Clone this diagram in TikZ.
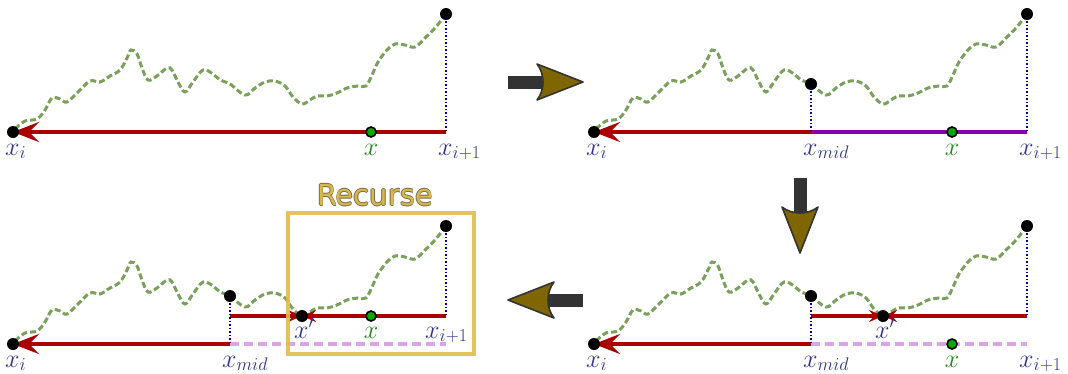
\RequirePackage{fix-cm}
\documentclass[tikz,border=0pt]{standalone}
\usepackage{fontspec}
\newfontfamily\recfont{DejaVu Sans}
\usetikzlibrary{arrows.meta}

\definecolor{walkgreen}{RGB}{122,160,92}
\definecolor{segred}{RGB}{170,0,0}
\definecolor{segpurple}{RGB}{136,0,170}
\definecolor{palepurple}{RGB}{218,165,228}
\definecolor{lblblue}{RGB}{52,52,140}
\definecolor{dotblue}{RGB}{0,0,140}
\definecolor{ptgreen}{RGB}{0,170,0}
\definecolor{lblgreen}{RGB}{34,136,34}
\definecolor{headolive}{RGB}{128,102,0}
\definecolor{shaftgray}{RGB}{51,51,51}
\definecolor{boxgold}{RGB}{224,190,72}
\definecolor{textgold}{RGB}{216,184,74}
\definecolor{edgegold}{RGB}{120,110,80}

\newcommand{\wiggle}{%
  \draw[walk] plot[smooth, tension=0.6] coordinates {(15,129) (25,121) (37,119)
    (45,110) (52,98) (60,99) (67,102) (78,92) (90,81) (100,82) (110,76) (120,70)
    (127,58) (131,50) (137,54) (142,68) (148,80) (157,76) (167,68) (172,70)
    (178,82) (185,92) (193,82) (203,70) (213,74) (220,80) (230,84) (245,95)
    (255,88) (265,82) (275,81) (285,86) (293,97) (302,104) (310,100) (317,96)
    (327,96) (337,93) (347,88) (358,86) (366,86) (372,75) (378,62) (387,50)
    (395,44) (405,45) (415,47) (425,38) (435,28) (446,14)};}
\newcommand{\bigarrow}[2]{%
  \begin{scope}[shift={#1}, rotate=#2]
    \fill[shaftgray] (0,-6.5) rectangle (36,6.5);
    \filldraw[fill=headolive, draw=shaftgray, line width=1.6pt, line join=round]
      (75,0) -- (29,18) .. controls (37,8) and (37,-8) .. (29,-18) -- cycle;
  \end{scope}}

\begin{document}
\begin{tikzpicture}[x=1pt, y=-1pt,
    walk/.style={walkgreen, line width=3pt, dash pattern=on 6pt off 3pt},
    seg/.style={segred, line width=4pt, -{Stealth[length=26pt, width=20pt, inset=10pt]}},
    part/.style={segred, line width=3.5pt, -{Stealth[length=14pt, width=12pt, inset=5pt]}},
    rest/.style={palepurple, line width=4pt, dash pattern=on 9pt off 5pt},
    drop/.style={dotblue, line width=1.5pt, dotted},
    pt/.style={circle, fill=black, inner sep=0pt, minimum size=12pt},
    gpt/.style={circle, fill=ptgreen, draw=black, line width=1.6pt, inner sep=0pt, minimum size=10pt},
    lbl/.style={lblblue, font=\fontsize{26}{30}\selectfont, inner sep=0pt,
      anchor=base west, xshift=-8pt, yshift=-23pt},
    glbl/.style={lblgreen, font=\fontsize{26}{30}\selectfont, inner sep=0pt,
      anchor=base, yshift=-23pt},
    rec/.style={font=\recfont\fontsize{29}{34}\selectfont, inner sep=0pt}]
\useasboundingbox (0,0) rectangle (1068,373);

% top left
\begin{scope}
  \coordinate (a-i) at (13,132);
  \coordinate (a-top) at (446,14);
  \coordinate (a-end) at (446,132);
  \coordinate (a-x) at (371,132);
  \wiggle
  \draw[seg] (a-end) -- (a-i);
  \draw[drop] (a-top) -- (a-end);
  \node[pt] (a-i-dot) at (a-i) {};
  \node[pt] (a-top-dot) at (a-top) {};
  \node[gpt] (a-x-dot) at (a-x) {};
  \node[lbl] (a-i-lbl) at (a-i) {$x_i$};
  \node[glbl] (a-x-lbl) at (a-x) {$x$};
  \node[lbl] (a-end-lbl) at (a-end) {$x_{i+1}$};
\end{scope}

% top right
\begin{scope}[shift={(581,0)}]
  \coordinate (b-i) at (13,132);
  \coordinate (b-top) at (446,14);
  \coordinate (b-end) at (446,132);
  \coordinate (b-midtop) at (230,84);
  \coordinate (b-mid) at (230,132);
  \coordinate (b-x) at (371,132);
  \wiggle
  \draw[seg] (b-mid) -- (b-i);
  \draw[segpurple, line width=4pt] (b-mid) -- (b-end);
  \draw[drop] (b-top) -- (b-end);
  \draw[drop] (b-midtop) -- (b-mid);
  \node[pt] (b-i-dot) at (b-i) {};
  \node[pt] (b-top-dot) at (b-top) {};
  \node[pt] (b-mid-dot) at (b-midtop) {};
  \node[gpt] (b-x-dot) at (b-x) {};
  \node[lbl] (b-i-lbl) at (b-i) {$x_i$};
  \node[lbl] (b-mid-lbl) at (b-mid) {$x_{mid}$};
  \node[glbl] (b-x-lbl) at (b-x) {$x$};
  \node[lbl] (b-end-lbl) at (b-end) {$x_{i+1}$};
\end{scope}

% bottom right
\begin{scope}[shift={(581,212)}]
  \coordinate (c-i) at (13,132);
  \coordinate (c-top) at (446,14);
  \coordinate (c-endup) at (446,104);
  \coordinate (c-end) at (446,132);
  \coordinate (c-midtop) at (230,84);
  \coordinate (c-midup) at (230,104);
  \coordinate (c-mid) at (230,132);
  \coordinate (c-xp) at (302,104);
  \coordinate (c-x) at (371,132);
  \wiggle
  \draw[seg] (c-mid) -- (c-i);
  \draw[rest] (c-mid) -- (c-end);
  \draw[part] (c-midup) -- (c-xp);
  \draw[part] (c-endup) -- (c-xp);
  \draw[drop] (c-top) -- (c-endup);
  \draw[drop] (c-midtop) -- (c-mid);
  \node[pt] (c-i-dot) at (c-i) {};
  \node[pt] (c-top-dot) at (c-top) {};
  \node[pt] (c-mid-dot) at (c-midtop) {};
  \node[pt] (c-xp-dot) at (c-xp) {};
  \node[gpt] (c-x-dot) at (c-x) {};
  \node[lbl] (c-i-lbl) at (c-i) {$x_i$};
  \node[lbl] (c-mid-lbl) at (c-mid) {$x_{mid}$};
  \node[lbl, yshift=1pt] (c-xp-lbl) at (c-xp) {$x'$};
  \node[glbl] (c-x-lbl) at (c-x) {$x$};
  \node[lbl] (c-end-lbl) at (c-end) {$x_{i+1}$};
\end{scope}

% bottom left
\begin{scope}[shift={(0,212)}]
  \coordinate (d-i) at (13,132);
  \coordinate (d-top) at (446,14);
  \coordinate (d-endup) at (446,104);
  \coordinate (d-end) at (446,132);
  \coordinate (d-midtop) at (230,84);
  \coordinate (d-midup) at (230,104);
  \coordinate (d-mid) at (230,132);
  \coordinate (d-xp) at (302,104);
  \coordinate (d-x) at (371,104);
  \wiggle
  \draw[seg] (d-mid) -- (d-i);
  \draw[rest] (d-mid) -- (d-end);
  \draw[part] (d-midup) -- (d-xp);
  \draw[part] (d-endup) -- (d-xp);
  \draw[drop] (d-top) -- (d-endup);
  \draw[drop] (d-midtop) -- (d-mid);
  \node[pt] (d-i-dot) at (d-i) {};
  \node[pt] (d-top-dot) at (d-top) {};
  \node[pt] (d-mid-dot) at (d-midtop) {};
  \node[pt] (d-xp-dot) at (d-xp) {};
  \node[gpt] (d-x-dot) at (d-x) {};
  \node[lbl] (d-i-lbl) at (d-i) {$x_i$};
  \node[lbl] (d-mid-lbl) at (d-mid) {$x_{mid}$};
  \node[lbl, yshift=1pt] (d-xp-lbl) at (d-xp) {$x'$};
  \node[glbl, yshift=1pt] (d-x-lbl) at (d-x) {$x$};
  \node[lbl, xshift=-13pt, yshift=1pt] (d-end-lbl) at (d-endup) {$x_{i+1}$};
\end{scope}

% recurse box
\node[draw=boxgold, line width=4pt, opacity=0.9, minimum width=186pt,
  minimum height=141pt, inner sep=0pt] (recbox) at (381,283.5) {};
\foreach \dx/\dy in {-0.8/0, 0.8/0, 0/-0.8, 0/0.8}
  \node[rec, edgegold] at (375+\dx,195+\dy) {Recurse};
\node[rec, textgold] (rectext) at (375,195) {Recurse};

% step arrows
\bigarrow{(508,82)}{0}
\bigarrow{(800,178)}{-90}
\bigarrow{(583,300)}{180}
\end{tikzpicture}
\end{document}
